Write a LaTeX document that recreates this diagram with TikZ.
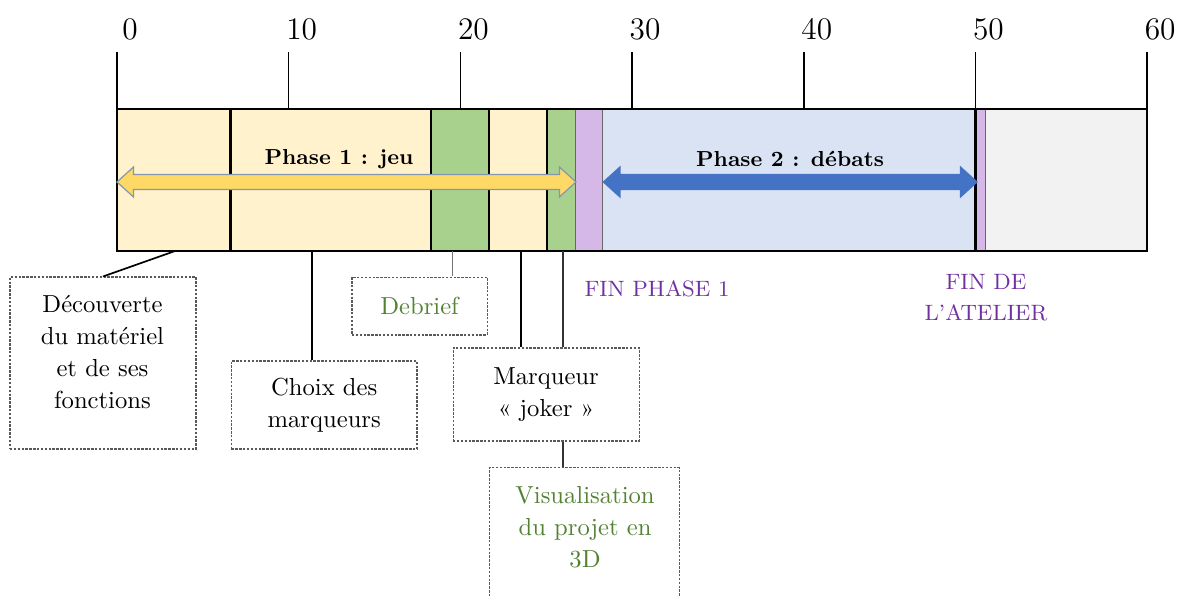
\documentclass[tikz,border=0pt]{standalone}
\usetikzlibrary{positioning,calc}
\definecolor{segyellow}{RGB}{255,242,204}
\definecolor{seggreen}{RGB}{169,209,142}
\definecolor{segpurple}{RGB}{213,184,232}
\definecolor{segblue}{RGB}{218,227,243}
\definecolor{seggray}{RGB}{242,242,242}
\definecolor{arryellow}{RGB}{255,217,102}
\definecolor{arrblue}{RGB}{68,114,196}
\definecolor{arredge}{RGB}{132,151,176}
\definecolor{txtgreen}{RGB}{84,130,53}
\definecolor{txtpurple}{RGB}{112,48,160}
\newcommand{\boxfont}{\fontsize{10.2}{13.3}\selectfont}
\newcommand{\finfont}{\fontsize{9.2}{13}\selectfont}
\newcommand{\phasefont}{\fontsize{9}{11}\selectfont\bfseries}
\newcommand{\tickfont}{\fontsize{13}{15}\selectfont}
% double arrow across the bar: left end, right end, style
\newcommand{\phasearrow}[3]{%
  \filldraw[#3] (#1,1.005) -- (#1+0.96,1.223) -- (#1+0.96,1.114) -- (#2-0.96,1.114)
    -- (#2-0.96,1.223) -- (#2,1.005) -- (#2-0.96,0.787) -- (#2-0.96,0.896)
    -- (#1+0.96,0.896) -- (#1+0.96,0.787) -- cycle;}

\begin{document}
\begin{tikzpicture}[x=0.25cm,
  segbar/.style={draw=black!60,line width=0.4pt},
  segline/.style={line width=1pt},
  tickline/.style={line width=0.6pt},
  notebox/.style={draw=black!65,line width=0.45pt,dash pattern=on 1pt off 0.6pt,
    fill=white,align=center,font=\boxfont,inner sep=0pt},
  noteline/.style={line width=0.7pt},
  finlabel/.style={font=\finfont,text=txtpurple,align=center}
]
  \clip (-6.814,-5.009) rectangle (61.97,3.655);
  % time bar
  \foreach \a/\b/\c in {0/6.6/segyellow,6.6/18.3/segyellow,18.3/21.65/seggreen,
      21.65/25.05/segyellow,25.05/26.7/seggreen,26.7/28.3/segpurple,
      28.3/50/segblue,50/50.6/segpurple,50.6/60/seggray}
    \filldraw[segbar,fill=\c] (\a,0) rectangle (\b,2.068);
  \foreach \a in {6.6,18.3,21.65,25.05,50}
    \draw[segline] (\a,0) -- (\a,2.068);
  \draw[segline] (0,0) rectangle (60,2.068);
  % scale
  \foreach \t in {0,10,...,60}{
    \draw[tickline] (\t,2.068) -- (\t,2.897);
    \node[font=\tickfont] (tick\t) at (\t+0.757,3.23) {\t};
  }
  % phases
  \phasearrow{0}{26.73}{fill=arryellow,draw=arredge,line width=0.5pt}
  \phasearrow{28.33}{50.09}{fill=arrblue,draw=arrblue,line width=0.5pt}
  \node[font=\phasefont] (phaseone) at (12.93,1.340) {Phase 1 : jeu};
  \node[font=\phasefont] (phasetwo) at (39.2,1.340) {Phase 2 : débats};
  % notes below the bar
  \coordinate (decouvbar) at (3.38,0);
  \coordinate (choixbar) at (11.36,0);
  \coordinate (debriefbar) at (19.54,0);
  \coordinate (jokerbar) at (23.53,0);
  \coordinate (visubar) at (25.97,0);
  \node[notebox,minimum width=2.708cm,minimum height=2.504cm] (decouv) at (-0.815,-1.631) {};
  \node[font=\boxfont,align=center] (decouvtxt) at (-0.845,-1.471)
    {Découverte\\du matériel\\et de ses\\fonctions};
  \node[notebox,minimum width=2.701cm,minimum height=1.281cm] (choix) at (12.07,-2.242)
    {Choix des\\marqueurs};
  \node[notebox,text=txtgreen,minimum width=1.966cm,minimum height=0.844cm] (debrief)
    at (17.62,-0.801) {Debrief};
  \node[notebox,minimum width=2.708cm,minimum height=1.354cm] (joker) at (24.99,-2.089)
    {Marqueur\\«~joker~»};
  \node[notebox,anchor=north,minimum width=2.759cm,minimum height=2.2cm] (visu)
    at (27.22,-3.145) {};
  \node[font=\boxfont,text=txtgreen,align=center] (visutxt) at (27.26,-4.026)
    {Visualisation\\du projet en\\3D};
  \draw[noteline] (decouvbar) -- (decouv.north);
  \draw[noteline] (choixbar) -- (choixbar |- choix.north);
  \draw[black!55,line width=0.45pt] (debriefbar) -- (debriefbar |- debrief.north);
  \draw[noteline] (jokerbar) -- (jokerbar |- joker.north);
  \draw[black!80,line width=0.5pt] (visubar) -- (visubar |- joker.north);
  \draw[black!80,line width=0.5pt] (visubar |- joker.south) -- (visubar |- visu.north);
  % end markers
  \node[finlabel] (finphase) at (31.45,-0.553) {FIN PHASE 1};
  \node[finlabel] (finatelier) at (50.61,-0.677) {FIN DE\\L’ATELIER};
\end{tikzpicture}
\end{document}
